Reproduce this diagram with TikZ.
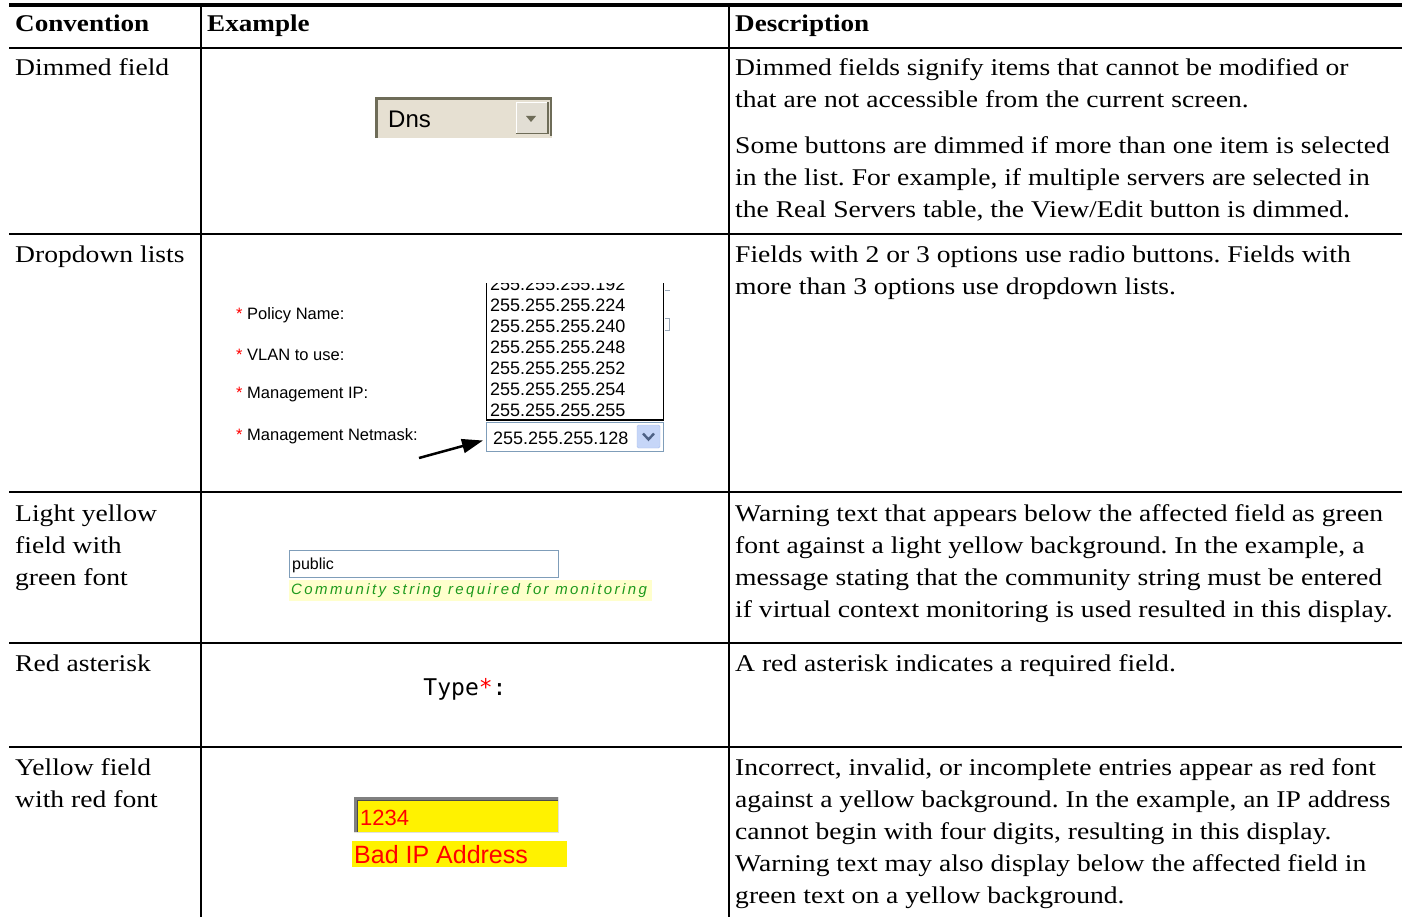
\documentclass[tikz,border=0pt]{standalone}
\usepackage{fontspec}
\setmainfont[FakeStretch=1.15, BoldFeatures={FakeStretch=1.13}]{Liberation Serif}
\newfontfamily\uifont{Liberation Sans}
\newfontfamily\uiwide[LetterSpace=16]{Liberation Sans}
\newfontfamily\uimono{DejaVu Sans Mono}
\usetikzlibrary{arrows.meta}
\frenchspacing
\definecolor{lineblue}{HTML}{7F9DB9}
\definecolor{dnsbg}{HTML}{E6E0D2}
\definecolor{dnsdark}{HTML}{6E6C58}
\definecolor{dnsbtn}{HTML}{E2DED4}
\definecolor{btnblue}{HTML}{C6D6F8}
\definecolor{btnedge}{HTML}{A8BFEF}
\definecolor{chev}{HTML}{4D6185}
\definecolor{okgreen}{HTML}{1E9A1E}
\definecolor{lightyel}{HTML}{FFFFCC}
\definecolor{sunk}{HTML}{808080}
\definecolor{tickgray}{HTML}{9AA8B8}
\newcommand\plines[1]{\parbox[t]{664pt}{\raggedright\frenchspacing #1}}
\tikzset{
  body/.style={anchor=base west, inner sep=0pt, font=\fontsize{24}{32}\selectfont},
  head/.style={anchor=base west, inner sep=0pt, font=\fontsize{24}{32}\selectfont\bfseries},
  rule/.style={line width=1.3pt, black},
  ui/.style={inner sep=0pt, font=\uifont\fontsize{16.5}{20}\selectfont},
  listitem/.style={anchor=west, inner sep=0pt, font=\uifont\fontsize{18}{21}\selectfont},
}
\begin{document}
\begin{tikzpicture}[x=1pt, y=-1pt]
\useasboundingbox (0,0) rectangle (1407,917);
\fill[white] (0,0) rectangle (1407,917);
% table rules
\draw[line width=4pt] (9,5) -- (1402,5);
\foreach \yy in {48,234,492,643,747} \draw[rule] (9,\yy) -- (1402,\yy);
\draw[rule] (201,5) -- (201,917);
\draw[rule] (729,5) -- (729,917);
% headers
\node[head] (h1) at (15,32) {Convention};
\node[head] (h2) at (207,32) {Example};
\node[head] (h3) at (735,32) {Description};
% left column
\node[body] (c1) at (15,76) {Dimmed field};
\node[body] (c2) at (15,262) {Dropdown lists};
\node[body] (c3) at (15,521) {\plines{Light yellow\\field with\\green font}};
\node[body] (c4) at (15,671) {Red asterisk};
\node[body] (c5) at (15,775) {\plines{Yellow field\\with red font}};
% descriptions
\node[body] (d1a) at (735,76) {\plines{Dimmed fields signify items that cannot be modified or\\that are not accessible from the current screen.}};
\node[body] (d1b) at (735,154) {\plines{Some buttons are dimmed if more than one item is selected\\in the list. For example, if multiple servers are selected in\\the Real Servers table, the View/Edit button is dimmed.}};
\node[body] (d2) at (735,262) {\plines{Fields with 2 or 3 options use radio buttons. Fields with\\more than 3 options use dropdown lists.}};
\node[body] (d3) at (735,521) {\plines{Warning text that appears below the affected field as green\\font against a light yellow background. In the example, a\\message stating that the community string must be entered\\if virtual context monitoring is used resulted in this display.}};
\node[body] (d4) at (735,671) {A red asterisk indicates a required field.};
\node[body] (d5) at (735,775) {\plines{Incorrect, invalid, or incomplete entries appear as red font\\against a yellow background. In the example, an IP address\\cannot begin with four digits, resulting in this display.\\Warning text may also display below the affected field in\\green text on a yellow background.}};
% ---- Example 1: dimmed Dns field
\fill[dnsbg] (375,97) rectangle (552,138);
\draw[dnsdark, line width=3pt] (376.5,138) -- (376.5,98.5) -- (552,98.5);
\draw[dnsdark, line width=2pt] (551,98) -- (551,136);
\fill[dnsbtn] (516,102) rectangle (548,134);
\draw[white, line width=1pt] (516.5,134) -- (516.5,102.5) -- (548,102.5);
\draw[dnsdark, line width=1.5pt] (516,133.5) -- (548,133.5) -- (548,102);
\fill[dnsdark] (526,116) -- (536,116) -- (531,122) -- cycle;
\node[anchor=west, inner sep=0pt, font=\uifont\fontsize{24}{28}\selectfont] (dns) at (388,119) {Dns};
% ---- Example 2: dropdown list
\node[ui, anchor=west] (l1) at (236,315) {{\color{red}*} Policy Name:};
\node[ui, anchor=west] (l2) at (236,355) {{\color{red}*} VLAN to use:};
\node[ui, anchor=west] (l3) at (236,395) {{\color{red}*} Management IP:};
\node[ui, anchor=west] (l4) at (236,436) {{\color{red}*} Management Netmask:};
\fill[white] (486,283) rectangle (664,421);
\begin{scope}
\clip (486,283) rectangle (664,421);
\node[listitem] (i0) at (490,284) {255.255.255.192};
\end{scope}
\node[listitem] (i1) at (490,305) {255.255.255.224};
\node[listitem] (i2) at (490,326) {255.255.255.240};
\node[listitem] (i3) at (490,347) {255.255.255.248};
\node[listitem] (i4) at (490,368) {255.255.255.252};
\node[listitem] (i5) at (490,389) {255.255.255.254};
\node[listitem] (i6) at (490,410) {255.255.255.255};
\draw[black, line width=1.5pt] (486.5,283) -- (486.5,420) -- (663.5,420) -- (663.5,283);
\draw[tickgray, line width=1pt] (665,290) -- (670,290) (665,318) -- (670,318) (665,330) -- (670,330) (669,318) -- (669,330);
\node[draw=lineblue, fill=white, line width=1pt, minimum width=177pt, minimum height=29pt, inner sep=0pt, anchor=north west] (combo) at (486,422) {};
\node[listitem] (sel) at (493,438) {255.255.255.128};
\fill[btnblue, draw=btnedge, rounded corners=1.5pt] (637,425) rectangle (660,448);
\draw[chev, line width=2.4pt] (643,433.5) -- (648.5,439.5) -- (654,433.5);
\coordinate (arrtail) at (419,458);
\coordinate (arrhead) at (483,440.5);
\draw[line width=2.5pt, -{Triangle[length=21pt, width=14pt]}] (arrtail) -- (arrhead);
% ---- Example 3: light yellow with green font
\node[draw=lineblue, fill=white, line width=1.2pt, minimum width=269pt, minimum height=27pt, inner sep=0pt, anchor=north west] (pub) at (289,550) {};
\node[anchor=west, inner sep=0pt, font=\uifont\fontsize{16}{20}\selectfont] (pubtxt) at (292,565) {public};
\fill[lightyel] (289,580) rectangle (652,601);
\node[anchor=west, inner sep=0pt, text=okgreen, font=\uiwide\itshape\fontsize{15}{18}\selectfont] (warn) at (291,591) {Community string required for monitoring};
% ---- Example 4: red asterisk
\node[inner sep=0pt, font=\uimono\fontsize{23}{26}\selectfont] (type) at (465,689) {Type{\color{red}*}:};
% ---- Example 5: yellow field with red font
\fill[yellow] (354,797) rectangle (559,833);
\draw[sunk, line width=3pt] (355.5,833) -- (355.5,798.5) -- (559,798.5);
\draw[black!70, line width=1pt] (357.5,833) -- (357.5,800.5) -- (559,800.5);
\draw[black!12, line width=1.5pt] (354,832.5) -- (558.5,832.5) -- (558.5,797);
\node[anchor=west, inner sep=0pt, text=red, font=\uifont\fontsize{22}{26}\selectfont] (num) at (360,818) {1234};
\fill[yellow] (352,841) rectangle (567,867);
\node[anchor=west, inner sep=0pt, text=red, font=\uifont\fontsize{25}{28}\selectfont] (bad) at (354,855) {Bad IP Address};
\end{tikzpicture}
\end{document}
